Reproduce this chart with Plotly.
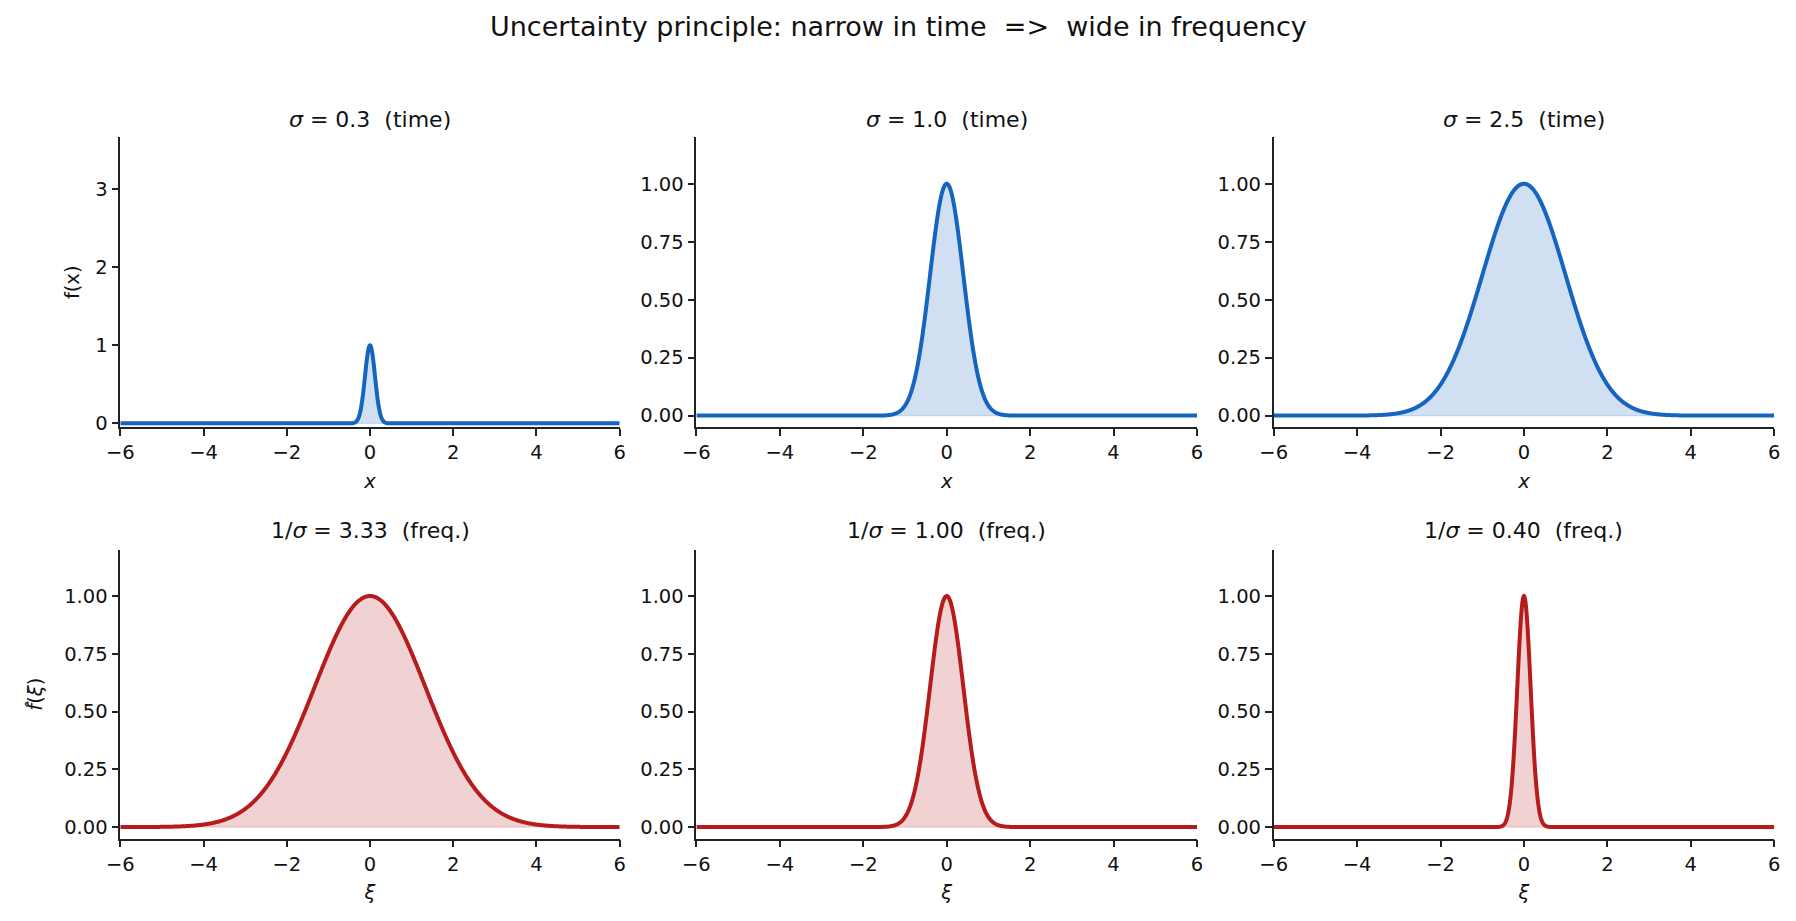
import numpy as np
import plotly.graph_objects as go

# ---- data ----
sigmas = [0.3, 1.0, 2.5]
x_range = [-6, 6]
x_ticks = [-6, -4, -2, 0, 2, 4, 6]
y_ticks_unit = [0.0, 0.25, 0.5, 0.75, 1.0]
y_ticks_wide = [0, 1, 2, 3]
time_titles = ["<i>σ</i> = 0.3\u00a0\u00a0(time)",
               "<i>σ</i> = 1.0\u00a0\u00a0(time)",
               "<i>σ</i> = 2.5\u00a0\u00a0(time)"]
freq_titles = ["1/<i>σ</i> = 3.33\u00a0\u00a0(freq.)",
               "1/<i>σ</i> = 1.00\u00a0\u00a0(freq.)",
               "1/<i>σ</i> = 0.40\u00a0\u00a0(freq.)"]
suptitle = "Uncertainty principle: narrow in time \u00a0=>\u00a0 wide in frequency"

grid = np.linspace(x_range[0], x_range[1], 1601)

BLUE = "#1565C0"
RED = "#B71C1C"
BLUE_FILL = "rgba(21,101,192,0.2)"
RED_FILL = "rgba(183,28,28,0.2)"

# ---- layout geometry (paper fractions) ----
W, H = 1796, 921
col_px = [(120.3, 619.7), (696.4, 1197.0), (1273.7, 1774.2)]
row_px = [(137.4, 427.2), (549.8, 838.6)]
xdom = [(a / W, b / W) for a, b in col_px]
ydom = [(1 - b / H, 1 - a / H) for a, b in row_px]

fig = go.Figure()
AX = dict(showline=True, linecolor="#222", linewidth=1.6, ticks="outside",
          ticklen=7, tickwidth=1.6, tickcolor="#222", showgrid=False,
          zeroline=False, mirror=False, automargin=False,
          tickfont=dict(family="DejaVu Sans", size=19.5, color="#111"))

annotations = []
idx = 0
for r in range(2):
    for c in range(3):
        idx += 1
        s = sigmas[c]
        if r == 0:
            y = np.exp(-np.pi * grid ** 2 / s ** 2)
            color, fillc = BLUE, BLUE_FILL
            title = time_titles[c]
            xlab = "<i>x</i>"
        else:
            y = np.exp(-np.pi * (s * grid) ** 2)
            color, fillc = RED, RED_FILL
            title = freq_titles[c]
            xlab = "<i>ξ</i>"
        xa = "x" if idx == 1 else f"x{idx}"
        ya = "y" if idx == 1 else f"y{idx}"
        # fill polygon (curve + baseline), like fill_between
        px_ = np.concatenate([grid, grid[::-1]])
        py_ = np.concatenate([y, np.zeros_like(y)])
        fig.add_trace(go.Scatter(x=px_, y=py_, fill="toself", fillcolor=fillc,
                                 line=dict(color=fillc, width=1.2, simplify=False),
                                 mode="lines",
                                 xaxis=xa, yaxis=ya, showlegend=False,
                                 hoverinfo="skip"))
        fig.add_trace(go.Scatter(x=grid, y=y, mode="lines",
                                 line=dict(color=color, width=4, simplify=False),
                                 xaxis=xa, yaxis=ya, showlegend=False))
        xkey = "xaxis" if idx == 1 else f"xaxis{idx}"
        ykey = "yaxis" if idx == 1 else f"yaxis{idx}"
        xcfg = dict(AX, domain=list(xdom[c]), anchor=ya, range=x_range,
                    tickvals=x_ticks,
                    title=dict(text=xlab, standoff=11,
                               font=dict(family="DejaVu Sans", size=19.5, color="#111")))
        if r == 0 and c == 0:
            yr = [-0.05, 1.1 / s]
            tv = y_ticks_wide
            tt = [str(v) for v in tv]
        else:
            yr = [-0.05, 1.2]
            tv = y_ticks_unit
            tt = [f"{v:.2f}" for v in tv]
        ycfg = dict(AX, domain=list(ydom[r]), anchor=xa, range=yr,
                    tickvals=tv, ticktext=tt)
        if c == 0:
            ylab = "f(x)" if r == 0 else "<i>f\u0302</i>(<i>ξ</i>)"
            ycfg["title"] = dict(text=ylab, standoff=10 if r == 0 else 16,
                                 font=dict(family="DejaVu Sans", size=19.5, color="#111"))
        fig.layout[xkey] = xcfg
        fig.layout[ykey] = ycfg
        annotations.append(dict(text=title, xref="paper", yref="paper",
                                x=(xdom[c][0] + xdom[c][1]) / 2,
                                y=1 - (119 if r == 0 else 530) / H,
                                xanchor="center", yanchor="middle", showarrow=False,
                                font=dict(family="DejaVu Sans", size=22, color="#111")))

annotations.append(dict(text=suptitle, xref="paper", yref="paper", x=0.5,
                        y=1 - 26 / H, xanchor="center", yanchor="middle",
                        showarrow=False,
                        font=dict(family="DejaVu Sans", size=27, color="#111")))

fig.update_layout(width=W, height=H, margin=dict(l=0, r=0, t=0, b=0),
                  paper_bgcolor="white", plot_bgcolor="white",
                  annotations=annotations, showlegend=False,
                  font=dict(family="DejaVu Sans", color="#111"))
fig.write_html("out.html")
